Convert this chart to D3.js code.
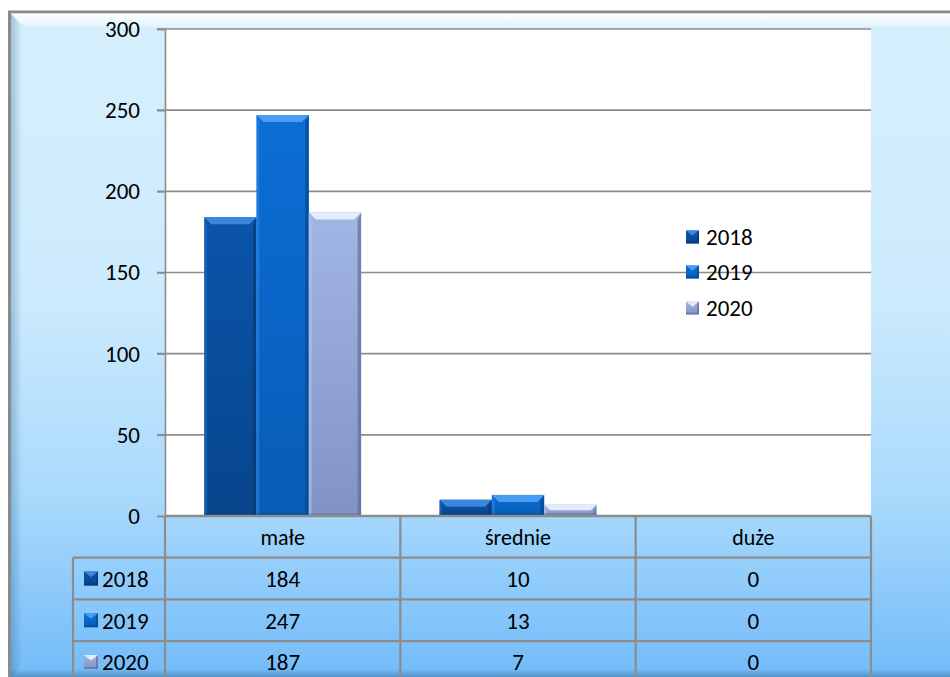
<!DOCTYPE html>
<html>
<head>
<meta charset="utf-8">
<script src="https://cdn.jsdelivr.net/npm/d3@7"></script>
<style>
html,body{margin:0;padding:0;background:#ffffff;}
svg{display:block;}
text{font-family:Carlito,Lato,"Open Sans",sans-serif;fill:#000;}
</style>
</head>
<body>
<svg id="chart" width="950" height="677"></svg>
<script>
// ---- data ----
const categories = ["małe", "średnie", "duże"];
const years = ["2018", "2019", "2020"];
const values2018 = [184, 10, 0];
const values2019 = [247, 13, 0];
const values2020 = [187, 7, 0];
const yTicks = [0, 50, 100, 150, 200, 250, 300];

const seriesValues = [values2018, values2019, values2020];

const svg = d3.select("#chart");
const W = 950, H = 677;
const plot = {left: 165, right: 871, top: 29, bottom: 516};
const rowH = 41.7;
const tableLeft = 73;
const FS = 23;

const palette = {
  "2018": {main: ["#0b54aa", "#07458c"], top: "#3a86dc", dark: "#053773", light: "#1e6cc6"},
  "2019": {main: ["#0c6ed6", "#075cb6"], top: "#4a9cf2", dark: "#04468c", light: "#2a84e6"},
  "2020": {main: ["#a2b6e6", "#8193c4"], top: "#e4ecfc", dark: "#5e6d98", light: "#b7c6ee"}
};

const defs = svg.append("defs");
const bg = defs.append("linearGradient").attr("id", "bgGrad").attr("x1", 0).attr("y1", 0).attr("x2", 0).attr("y2", 1);
[["0%", "#d6effd"], ["40%", "#cdebfd"], ["70%", "#a8d9fc"], ["100%", "#68b5f8"]].forEach(s =>
  bg.append("stop").attr("offset", s[0]).attr("stop-color", s[1]));
const topHi = defs.append("linearGradient").attr("id", "topHi").attr("x1", 0).attr("y1", 0).attr("x2", 0).attr("y2", 1);
topHi.append("stop").attr("offset", "0%").attr("stop-color", "#ffffff").attr("stop-opacity", 0.95);
topHi.append("stop").attr("offset", "100%").attr("stop-color", "#ffffff").attr("stop-opacity", 0.3);
const leftSh = defs.append("linearGradient").attr("id", "leftSh").attr("x1", 0).attr("y1", 0).attr("x2", 1).attr("y2", 0);
leftSh.append("stop").attr("offset", "0%").attr("stop-color", "#3a6e9a").attr("stop-opacity", 0.35);
leftSh.append("stop").attr("offset", "100%").attr("stop-color", "#3a6e9a").attr("stop-opacity", 0);
const botSh = defs.append("linearGradient").attr("id", "botSh").attr("x1", 0).attr("y1", 0).attr("x2", 0).attr("y2", 1);
botSh.append("stop").attr("offset", "0%").attr("stop-color", "#2a5f8e").attr("stop-opacity", 0);
botSh.append("stop").attr("offset", "100%").attr("stop-color", "#2a5f8e").attr("stop-opacity", 0.45);

years.forEach(y => {
  const g = defs.append("linearGradient").attr("id", "bar" + y).attr("x1", 0).attr("y1", 0).attr("x2", 0).attr("y2", 1);
  g.append("stop").attr("offset", "0%").attr("stop-color", palette[y].main[0]);
  g.append("stop").attr("offset", "100%").attr("stop-color", palette[y].main[1]);
});

// outer frame
svg.append("rect").attr("x", 9.5).attr("y", 12).attr("width", 960).attr("height", 700)
  .attr("fill", "url(#bgGrad)").attr("stroke", "#8a8a8a").attr("stroke-width", 3);
svg.append("path").attr("d", `M11,13.5 L960,13.5 L960,27 L25,27 Z`).attr("fill", "url(#topHi)");
svg.append("path").attr("d", `M11,13.5 L22,27 L22,666 L11,677 Z`).attr("fill", "url(#leftSh)");
svg.append("rect").attr("x", 11).attr("y", 669).attr("width", 950).attr("height", 8).attr("fill", "url(#botSh)");

// plot area
svg.append("rect").attr("x", plot.left).attr("y", plot.top).attr("width", plot.right - plot.left)
  .attr("height", plot.bottom - plot.top).attr("fill", "#ffffff");

// scales
const y = d3.scaleLinear().domain([0, 300]).range([plot.bottom, plot.top]);
const x0 = d3.scaleBand().domain(categories).range([plot.left, plot.right]).padding(0);
const bw = x0.bandwidth();
const x1 = d3.scaleBand().domain(years).range([bw / 6, bw * 5 / 6]).padding(0);

// gridlines
svg.append("g").selectAll("line").data(yTicks.filter(t => t > 0)).join("line")
  .attr("x1", plot.left - 8).attr("x2", plot.right)
  .attr("y1", d => y(d)).attr("y2", d => y(d))
  .attr("stroke", "#8c8c8c").attr("stroke-width", 1.6);

// y axis
const yAxis = svg.append("g").attr("transform", `translate(${plot.left},0)`)
  .call(d3.axisLeft(y).tickValues(yTicks).tickSize(8).tickPadding(17));
yAxis.select(".domain").attr("stroke", "#8c8c8c").attr("stroke-width", 1.6);
yAxis.selectAll(".tick line").attr("stroke", "#8c8c8c").attr("stroke-width", 1.6);
yAxis.selectAll(".tick text").attr("font-size", FS).attr("font-family", "Carlito, Lato, 'Open Sans', sans-serif").attr("fill", "#000");

// bars
const bev = 7;
const barG = svg.append("g");
categories.forEach((c, ci) => {
  years.forEach((yr, si) => {
    const v = seriesValues[si][ci];
    if (v <= 0) return;
    const bx = x0(c) + x1(yr), w = x1.bandwidth();
    const top = y(v), bot = y(0), h = bot - top;
    const b = Math.min(bev, h / 2);
    const p = palette[yr];
    const g = barG.append("g");
    g.append("rect").attr("x", bx).attr("y", top).attr("width", w).attr("height", h).attr("fill", "url(#bar" + yr + ")");
    g.append("path").attr("d", `M${bx},${top} L${bx + w},${top} L${bx + w - b},${top + b} L${bx + b},${top + b} Z`).attr("fill", p.top);
    g.append("path").attr("d", `M${bx},${top} L${bx + b * 0.4},${top + b} L${bx + b * 0.4},${bot} L${bx},${bot} Z`).attr("fill", p.light).attr("opacity", 0.6);
    g.append("path").attr("d", `M${bx + w},${top} L${bx + w - b * 0.5},${top + b} L${bx + w - b * 0.5},${bot} L${bx + w},${bot} Z`).attr("fill", p.dark).attr("opacity", 0.7);
    g.append("rect").attr("x", bx).attr("y", bot - Math.min(3, h / 3)).attr("width", w).attr("height", Math.min(3, h / 3)).attr("fill", p.dark).attr("opacity", 0.5);
  });
});

function icon(g, yr, cx, cy, s) {
  const p = palette[yr];
  const x = cx - s / 2, yy = cy - s / 2, b = s * 0.4;
  g.append("rect").attr("x", x).attr("y", yy).attr("width", s).attr("height", s).attr("fill", "url(#bar" + yr + ")");
  g.append("path").attr("d", `M${x},${yy} L${x + s},${yy} L${x + s / 2},${yy + b} Z`).attr("fill", p.top);
  g.append("path").attr("d", `M${x + s},${yy} L${x + s},${yy + s} L${x + s - 2},${yy + s - 2} L${x + s - 2},${yy + 2} Z`).attr("fill", p.dark).attr("opacity", 0.7);
  g.append("rect").attr("x", x).attr("y", yy + s - 2).attr("width", s).attr("height", 2).attr("fill", p.dark).attr("opacity", 0.6);
}

// legend
const legY = [237, 272, 308];
const leg = svg.append("g");
years.forEach((yr, i) => {
  icon(leg, yr, 692.5, legY[i], 13);
  leg.append("text").attr("x", 706).attr("y", legY[i]).attr("dy", "0.36em").attr("font-size", FS).text(yr);
});

// data table
const tbl = svg.append("g");
const lineC = "#8c8c8c";
categories.forEach(c => {
  tbl.append("text").attr("x", x0(c) + bw / 2).attr("y", plot.bottom + rowH / 2).attr("dy", "0.36em")
    .attr("text-anchor", "middle").attr("font-size", 22).text(c);
});
years.forEach((yr, si) => {
  const ry = plot.bottom + rowH * (si + 1);
  icon(tbl, yr, 91, ry + rowH / 2, 14);
  tbl.append("text").attr("x", 102).attr("y", ry + rowH / 2).attr("dy", "0.36em").attr("font-size", FS).text(yr);
  categories.forEach((c, ci) => {
    tbl.append("text").attr("x", x0(c) + bw / 2).attr("y", ry + rowH / 2).attr("dy", "0.36em")
      .attr("text-anchor", "middle").attr("font-size", FS).text(seriesValues[si][ci]);
  });
});
tbl.append("line").attr("x1", plot.left).attr("x2", plot.right).attr("y1", plot.bottom).attr("y2", plot.bottom)
  .attr("stroke", lineC).attr("stroke-width", 2.5);
[1, 2, 3].forEach(k => {
  const ry = plot.bottom + rowH * k;
  tbl.append("line").attr("x1", tableLeft).attr("x2", plot.right).attr("y1", ry).attr("y2", ry).attr("stroke", lineC).attr("stroke-width", 2.2);
});
tbl.append("line").attr("x1", tableLeft).attr("x2", tableLeft).attr("y1", plot.bottom + rowH).attr("y2", H).attr("stroke", lineC).attr("stroke-width", 2.2);
categories.concat(["_end"]).forEach((c, i) => {
  const xx = i < categories.length ? x0(c) : plot.right;
  tbl.append("line").attr("x1", xx).attr("x2", xx).attr("y1", plot.bottom).attr("y2", H).attr("stroke", lineC).attr("stroke-width", 2.2);
});
</script>
</body>
</html>
